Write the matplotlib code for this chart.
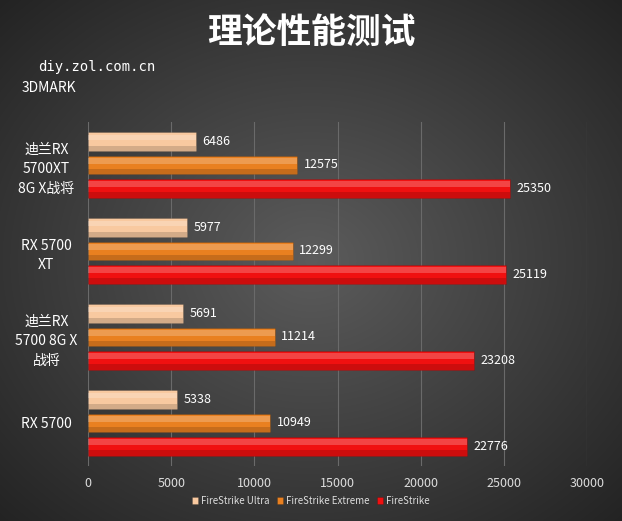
import numpy as np
import matplotlib
matplotlib.use("Agg")
import matplotlib.pyplot as plt
from matplotlib import font_manager as fm

names = sorted({f.name for f in fm.fontManager.ttflist})
cjk = next((n for n in names if 'Sans CJK SC' in n), None) or next((n for n in names if 'Sans CJK' in n), 'Noto Sans CJK SC')
plt.rcParams['font.family'] = 'sans-serif'
plt.rcParams['font.sans-serif'] = [cjk, 'DejaVu Sans']

categories = ["迪兰RX\n5700XT\n8G X战将", "RX 5700\nXT", "迪兰RX\n5700 8G X\n战将", "RX 5700"]
series_names = ["FireStrike Ultra", "FireStrike Extreme", "FireStrike"]
ultra = [6486, 5977, 5691, 5338]
extreme = [12575, 12299, 11214, 10949]
firestrike = [25350, 25119, 23208, 22776]
colors = ["#f8c9a0", "#e98020", "#f01010"]
ticks = [0, 5000, 10000, 15000, 20000, 25000, 30000]

W, H = 622, 521
fig = plt.figure(figsize=(W/100, H/100), dpi=100)
bg = fig.add_axes([0, 0, 1, 1])
yy, xx = np.mgrid[0:H, 0:W]
r = np.sqrt(((xx - W/2)/(W*0.7))**2 + ((yy - H/2)/(H*0.7))**2)
v = np.clip(0.36 - 0.22*r, 0.1, 0.4)
bg.imshow(np.dstack([v, v, v]), aspect='auto', extent=[0, 1, 0, 1])
bg.axis('off')

ax = fig.add_axes([88/W, 1-466/H, (587-88)/W, (466-122)/H])
ax.set_facecolor('none')
n = len(categories)
h = 0.22
data = [ultra, extreme, firestrike]
offs = [-0.27, 0, 0.27]
for s, (vals, c, o) in enumerate(zip(data, colors, offs)):
    for i, val in enumerate(vals):
        y = i + o
        ax.barh(y, val, height=h, color=c, edgecolor='#00000030', linewidth=0.5,
                label=series_names[s] if i == 0 else None)
        ax.barh(y - h*0.22, val, height=h*0.3, color='white', alpha=0.22, linewidth=0)
        ax.barh(y + h*0.35, val, height=h*0.3, color='black', alpha=0.15, linewidth=0)
        ax.text(val + 400, y, str(val), va='center', ha='left', color='white', fontsize=9)
ax.set_ylim(n - 0.5, -0.5)
ax.set_xlim(0, 30000)
ax.set_xticks(ticks)
ax.set_xticklabels([str(t) for t in ticks], color='#dddddd', fontsize=9)
ax.set_yticks(range(n))
ax.set_yticklabels(categories, color='white', fontsize=10, linespacing=1.5)
ax.tick_params(axis='y', length=0, pad=30)
ax.tick_params(axis='x', length=0, pad=8)
for t in ax.get_yticklabels():
    t.set_ha('center')
for sp in ax.spines.values():
    sp.set_visible(False)
ax.grid(axis='x', color='#6a6a6a', linewidth=0.8)
ax.set_axisbelow(True)

fig.text(0.5, 1-32/H, "理论性能测试", ha='center', va='center', color='white', fontsize=25, fontweight='bold')
fig.text(38/W, 1-67/H, "diy.zol.com.cn", ha='left', va='center', color='white', fontsize=10, family='DejaVu Sans Mono')
fig.text(22/W, 1-88/H, "3DMARK", ha='left', va='center', color='white', fontsize=10)
leg = fig.legend(loc='center', bbox_to_anchor=(0.5, 1-501/H), ncol=3, frameon=False,
                 fontsize=7, handlelength=0.6, handleheight=0.6, columnspacing=0.8, handletextpad=0.3)
for t in leg.get_texts():
    t.set_color('#dddddd')
fig.savefig("out.png", dpi=100)
